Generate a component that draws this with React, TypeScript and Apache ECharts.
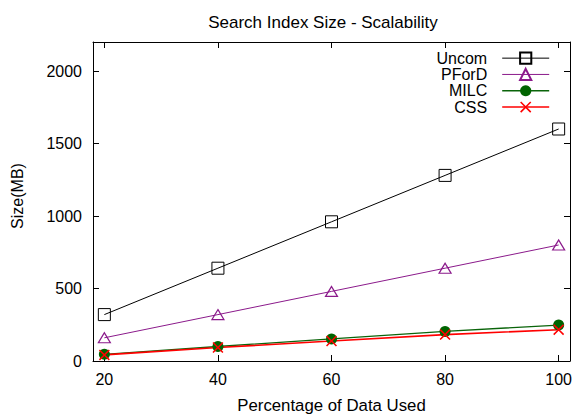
import React, { useEffect, useRef } from "react";
import * as echarts from "echarts";

// Share of the data set used (%)
const percentages = [20, 40, 60, 80, 100];
// Index size in MB per scheme
const uncom = [320, 640, 960, 1280, 1600];
const pford = [160, 320, 480, 640, 800];
const milc = [46, 100, 152, 204, 248];
const css = [42, 93, 138, 182, 216];

const xTicks = [20, 40, 60, 80, 100];
const yTicks = [0, 500, 1000, 1500, 2000];

const FONT = "Liberation Sans, Arial, Helvetica, sans-serif";
const X_SYMBOL =
  "path://M0,1 L1,0 L5,4 L9,0 L10,1 L6,5 L10,9 L9,10 L5,6 L1,10 L0,9 L4,5 Z";

const pairs = (ys: number[]) => percentages.map((x, i) => [x, ys[i]]);

export default function App() {
  const ref = useRef<HTMLDivElement>(null);

  useEffect(() => {
    if (!ref.current) return;
    document.body.style.margin = "0";
    const chart = echarts.init(ref.current, null, { renderer: "svg" });

    const axisLine = { show: true, onZero: false, lineStyle: { color: "#000", width: 1 } };
    const tickStyle = (vals: number[]) => ({
      show: true,
      inside: true,
      length: 6,
      customValues: vals,
      lineStyle: { color: "#000", width: 1 },
    });
    const labelStyle = (vals: number[], margin: number) => ({
      show: true,
      customValues: vals,
      color: "#000",
      fontFamily: FONT,
      fontSize: 16,
      margin,
      formatter: (v: number) => String(v),
    });

    chart.setOption({
      animation: false,
      backgroundColor: "#fff",
      grid: { left: 93, right: 4, top: 42, bottom: 53, containLabel: false },
      graphic: [
        {
          type: "text",
          x: 323,
          y: 22,
          style: {
            text: "Search Index Size - Scalability",
            fill: "#000",
            font: `17px ${FONT}`,
            textAlign: "center",
            textVerticalAlign: "middle",
          },
        },
        {
          type: "text",
          x: 17,
          y: 196,
          rotation: Math.PI / 2,
          style: {
            text: "Size(MB)",
            fill: "#000",
            font: `16px ${FONT}`,
            textAlign: "center",
            textVerticalAlign: "middle",
          },
        },
      ],
      legend: {
        orient: "vertical",
        align: "right",
        right: 25,
        top: 50,
        padding: 0,
        itemWidth: 47,
        itemHeight: 14,
        itemGap: 0,
        textStyle: {
          color: "#000",
          fontFamily: FONT,
          fontSize: 16,
          lineHeight: 16.3,
          padding: [0, 10, 0, 0],
        },
        data: [
          { name: "Uncom", lineStyle: { width: 1 } },
          { name: "PForD", lineStyle: { width: 1 } },
          { name: "MILC", lineStyle: { width: 1.3 } },
          { name: "CSS", lineStyle: { width: 1.6 } },
        ],
      },
      xAxis: [
        {
          type: "value",
          min: 18,
          max: 102,
          position: "bottom",
          name: "Percentage of Data Used",
          nameLocation: "middle",
          nameGap: 36,
          nameTextStyle: { color: "#000", fontFamily: FONT, fontSize: 16.8 },
          axisLine,
          axisTick: tickStyle(xTicks),
          axisLabel: labelStyle(xTicks, 10),
          splitLine: { show: false },
        },
        {
          type: "value",
          min: 18,
          max: 102,
          position: "top",
          axisLine,
          axisTick: tickStyle(xTicks),
          axisLabel: { show: false },
          splitLine: { show: false },
        },
      ],
      yAxis: [
        {
          type: "value",
          min: 0,
          max: 2200,
          position: "left",
          axisLine,
          axisTick: tickStyle(yTicks),
          axisLabel: labelStyle(yTicks, 11),
          splitLine: { show: false },
        },
        {
          type: "value",
          min: 0,
          max: 2200,
          position: "right",
          axisLine,
          axisTick: tickStyle(yTicks),
          axisLabel: { show: false },
          splitLine: { show: false },
        },
      ],
      series: [
        {
          name: "Uncom",
          type: "line",
          data: pairs(uncom),
          symbol: "rect",
          symbolSize: 12,
          lineStyle: { color: "#000", width: 1 },
          itemStyle: { color: "rgba(255,255,255,0)", borderColor: "#000", borderWidth: 1 },
        },
        {
          name: "PForD",
          type: "line",
          data: pairs(pford),
          symbol: "triangle",
          symbolSize: [12, 10],
          lineStyle: { color: "#8b1a8b", width: 1 },
          itemStyle: { color: "rgba(255,255,255,0)", borderColor: "#8b1a8b", borderWidth: 1.2 },
        },
        {
          name: "MILC",
          type: "line",
          data: pairs(milc),
          symbol: "circle",
          symbolSize: 11,
          lineStyle: { color: "#0a640a", width: 1.3 },
          itemStyle: { color: "#006400" },
        },
        {
          name: "CSS",
          type: "line",
          data: pairs(css),
          symbol: X_SYMBOL,
          symbolSize: 11,
          lineStyle: { color: "#ff0000", width: 1.6 },
          itemStyle: { color: "#ff0000" },
        },
      ],
    });

    return () => chart.dispose();
  }, []);

  return <div ref={ref} style={{ width: 575, height: 419 }} />;
}
